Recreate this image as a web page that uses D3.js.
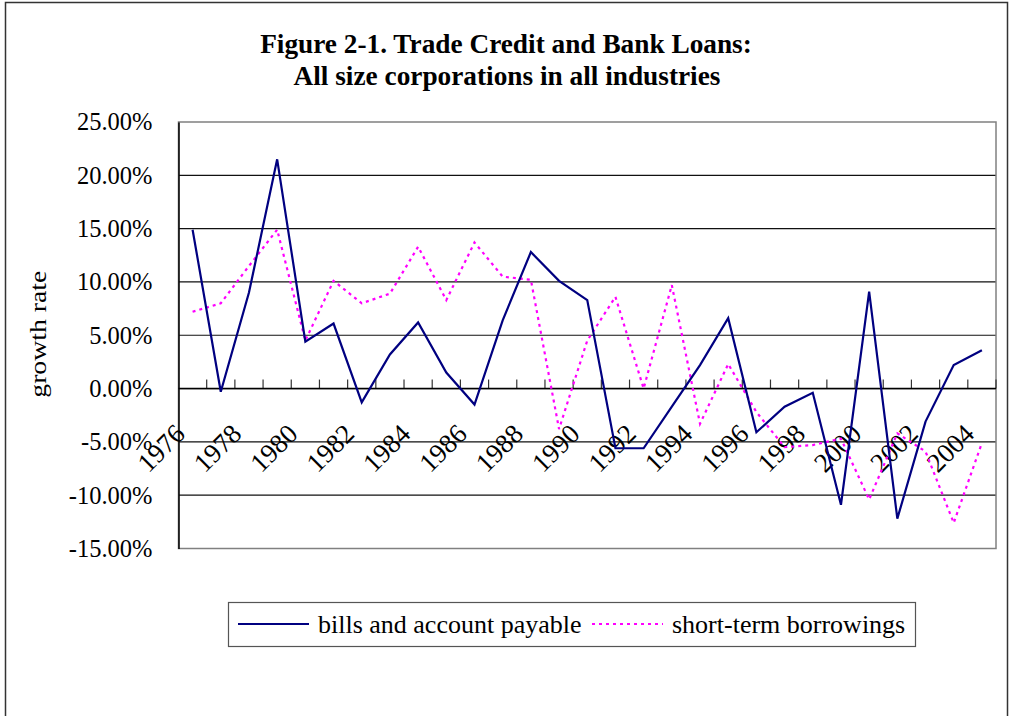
<!DOCTYPE html>
<html>
<head>
<meta charset="utf-8">
<script src="https://cdn.jsdelivr.net/npm/d3@7"></script>
<style>
  body { margin: 0; background: #fff; }
  svg text { font-family: "Liberation Serif", "Times New Roman", serif; fill: #000; }
</style>
</head>
<body>
<div id="chart"><svg></svg></div>
<script>
const years = [1976, 1977, 1978, 1979, 1980, 1981, 1982, 1983, 1984, 1985,
  1986, 1987, 1988, 1989, 1990, 1991, 1992, 1993, 1994, 1995,
  1996, 1997, 1998, 1999, 2000, 2001, 2002, 2003, 2004];

// growth rates in percent
const payables = [14.9, -0.3, 9.0, 21.5, 4.4, 6.1, -1.3, 3.2, 6.2, 1.5,
  -1.5, 6.4, 12.8, 10.1, 8.3, -5.6, -5.6, -1.7, 2.2, 6.6,
  -4.1, -1.7, -0.4, -10.9, 9.1, -12.2, -3.1, 2.2, 3.6];
const borrowings = [7.2, 8.0, 11.5, 14.9, 4.5, 10.1, 8.0, 8.9, 13.3, 8.3,
  13.7, 10.5, 10.2, -3.8, 4.5, 8.6, 0.0, 9.7, -3.3, 2.3,
  -2.2, -5.5, -5.3, -4.7, -10.4, -4.2, -5.9, -12.6, -5.1];

const yTicks = [-15, -10, -5, 0, 5, 10, 15, 20, 25];
const xLabels = years.filter((d, i) => i % 2 === 0);

const seriesNames = ["bills and account payable", "short-term borrowings"];

const W = 1010, H = 716;
const plot = { left: 178.5, right: 996, top: 122, bottom: 548.5 };

const svg = d3.select("#chart svg").attr("width", W).attr("height", H);

// outer chart border
svg.append("rect")
  .attr("x", 5.5).attr("y", 2.5)
  .attr("width", 1002).attr("height", 740)
  .attr("fill", "none").attr("stroke", "#333").attr("stroke-width", 1.5);

// title
const title = svg.append("text")
  .attr("text-anchor", "middle")
  .style("font-size", "27.3px")
  .style("font-weight", "bold");
title.append("tspan").attr("x", 506).attr("y", 53).text("Figure 2-1. Trade Credit and Bank Loans:");
title.append("tspan").attr("x", 507).attr("y", 85).text("All size corporations in all industries");

const x = d3.scaleBand().domain(years).range([plot.left, plot.right]);
const y = d3.scaleLinear().domain([-15, 25]).range([plot.bottom, plot.top]);
const cx = (d) => x(d) + x.bandwidth() / 2;

// gridlines
svg.append("g")
  .selectAll("line")
  .data(yTicks.filter((d) => d !== -15 && d !== 25))
  .enter()
  .append("line")
  .attr("x1", plot.left).attr("x2", plot.right)
  .attr("y1", (d) => y(d)).attr("y2", (d) => y(d))
  .attr("stroke", "#111").attr("stroke-width", 1.2);

// plot border
svg.append("rect")
  .attr("x", plot.left).attr("y", plot.top)
  .attr("width", plot.right - plot.left).attr("height", plot.bottom - plot.top)
  .attr("fill", "none").attr("stroke", "#808080").attr("stroke-width", 1.5);

// y axis
const yAxis = svg.append("g")
  .attr("transform", `translate(${plot.left},0)`)
  .call(d3.axisLeft(y).tickValues(yTicks).tickSize(0).tickPadding(26)
    .tickFormat((d) => d.toFixed(2) + "%"));
yAxis.select(".domain").attr("stroke", "#000").attr("stroke-width", 1.5);
yAxis.selectAll("text")
  .style("font-family", '"Liberation Serif", serif')
  .style("font-size", "24.5px");

svg.append("text")
  .attr("transform", `translate(46,${(plot.top + plot.bottom) / 2 - 1}) rotate(-90)`)
  .attr("text-anchor", "middle")
  .attr("textLength", 127)
  .attr("lengthAdjust", "spacingAndGlyphs")
  .style("font-size", "24px")
  .text("growth rate");

// category axis crossing at zero
const zeroY = y(0);
const boundaries = years.map((d) => x(d)).concat([plot.right]);
svg.append("g")
  .selectAll("line")
  .data(boundaries.slice(1))
  .enter()
  .append("line")
  .attr("x1", (d) => d).attr("x2", (d) => d)
  .attr("y1", zeroY).attr("y2", zeroY - 9)
  .attr("stroke", "#333").attr("stroke-width", 1.2);
svg.append("line")
  .attr("x1", plot.left).attr("x2", plot.right)
  .attr("y1", zeroY).attr("y2", zeroY)
  .attr("stroke", "#000").attr("stroke-width", 1.5);

svg.append("g")
  .selectAll("text")
  .data(xLabels)
  .enter()
  .append("text")
  .attr("text-anchor", "end")
  .attr("transform", (d) => `translate(${cx(d) - 6},${zeroY + 47}) rotate(-45)`)
  .style("font-size", "27px")
  .text((d) => d);

// lines
const line = d3.line()
  .x((d, i) => cx(years[i]))
  .y((d) => y(d));

svg.append("path")
  .datum(borrowings)
  .attr("d", line)
  .attr("fill", "none")
  .attr("stroke", "#ff00ff")
  .attr("stroke-width", 2.2)
  .attr("stroke-dasharray", "3,4");

svg.append("path")
  .datum(payables)
  .attr("d", line)
  .attr("fill", "none")
  .attr("stroke", "#000080")
  .attr("stroke-width", 2.2);

// legend
const legend = svg.append("g");
legend.append("rect")
  .attr("x", 228.5).attr("y", 602.5)
  .attr("width", 687).attr("height", 44)
  .attr("fill", "#fff").attr("stroke", "#555").attr("stroke-width", 1.2);

const legendItems = [
  { name: seriesNames[0], x: 238, color: "#000080", dash: null },
  { name: seriesNames[1], x: 592, color: "#ff00ff", dash: "3,4" }
];
legendItems.forEach((d) => {
  legend.append("line")
    .attr("x1", d.x).attr("x2", d.x + 71)
    .attr("y1", 624).attr("y2", 624)
    .attr("stroke", d.color).attr("stroke-width", 2)
    .attr("stroke-dasharray", d.dash);
  legend.append("text")
    .attr("x", d.x + 80).attr("y", 633)
    .style("font-size", "26px")
    .text(d.name);
});
</script>
</body>
</html>
